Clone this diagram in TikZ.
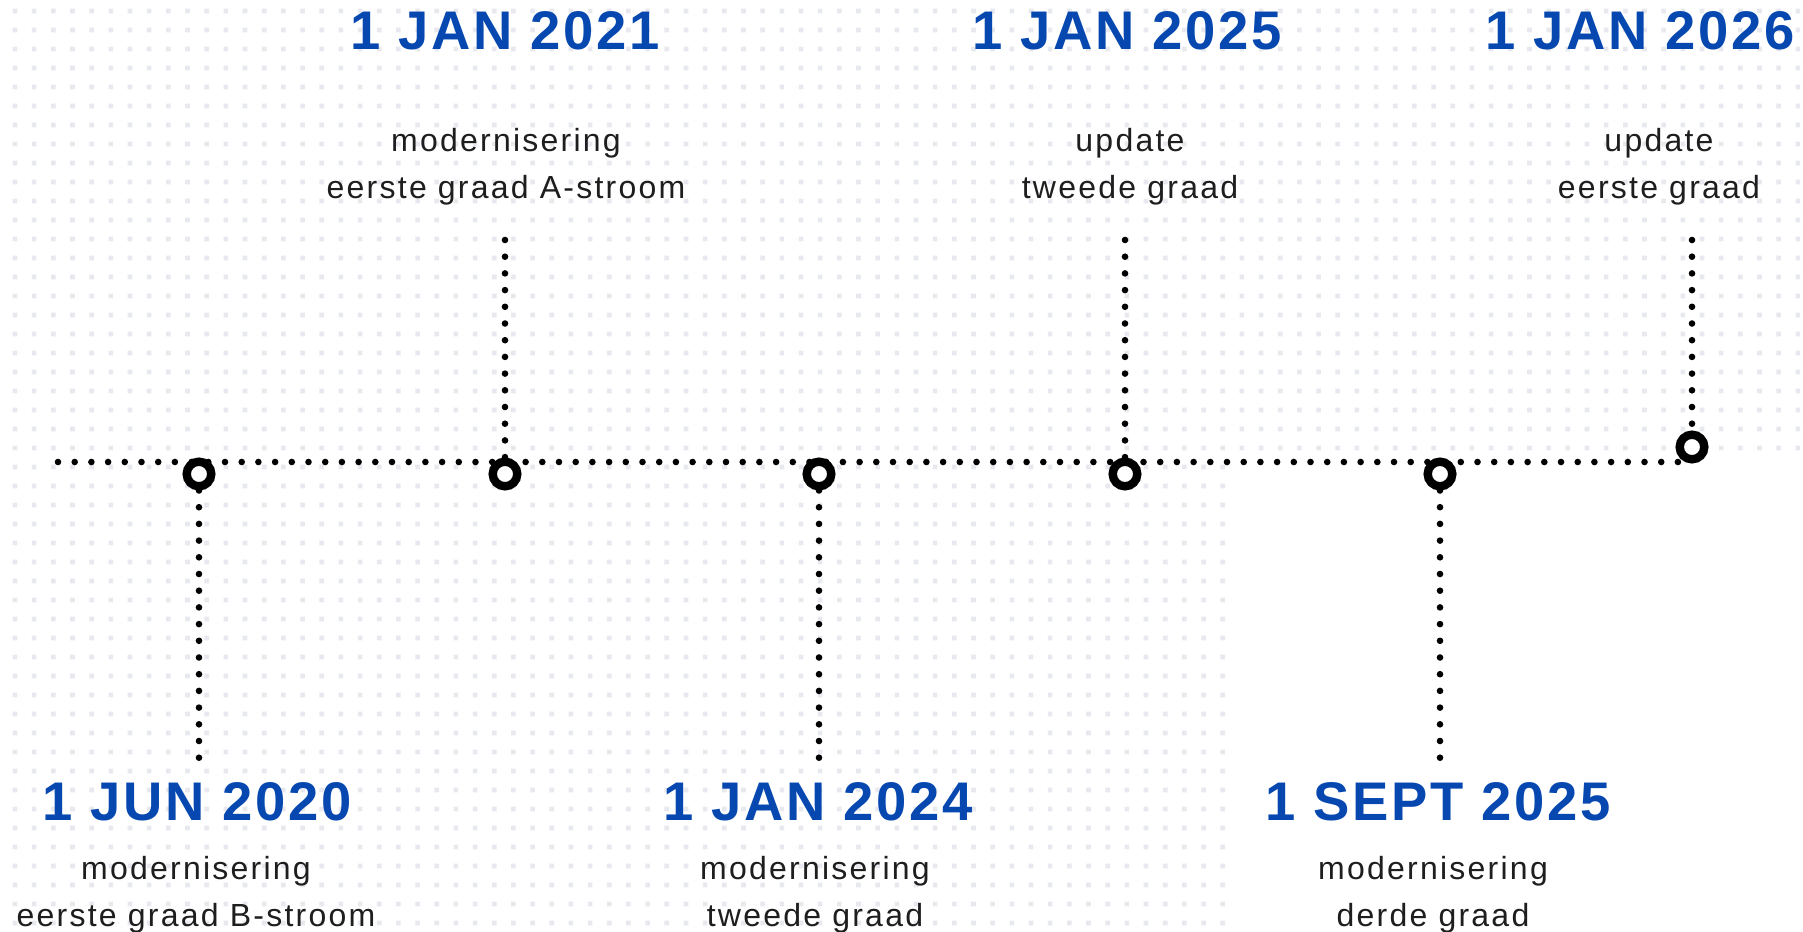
\documentclass[tikz,border=0pt]{standalone}
\usepackage{fontspec}
\setmainfont{Liberation Sans}
\newfontfamily\datefont[LetterSpace=5]{Liberation Sans}
\newfontfamily\descfont[LetterSpace=7]{Liberation Sans}
\definecolor{dateblue}{RGB}{6,72,176}
\definecolor{desctext}{RGB}{30,30,30}
\definecolor{gridc}{RGB}{232,233,238}
\pgfdeclarelayer{backmost}
\pgfdeclarelayer{lines}
\pgfsetlayers{backmost,lines,main}
\begin{document}
\begin{tikzpicture}[x=0.5pt,y=-0.5pt,
  datelbl/.style={font=\datefont\bfseries\fontsize{27.2}{30}\selectfont, text=dateblue, inner sep=0pt, anchor=base},
  desclbl/.style={font=\descfont\fontsize{16}{23.5}\selectfont, text=desctext, inner sep=0pt, align=center, anchor=north},
  dotline/.style={line width=3.3pt, line cap=round, dash pattern=on 0pt off 8.35pt},
  milestone/.style={circle, draw=black, line width=4.2pt, fill=white, inner sep=0pt, minimum size=12.3pt}]
\useasboundingbox (0,0) rectangle (1803,931);
\begin{pgfonlayer}{backmost}
\fill[white] (0,0) rectangle (1803,931);
\fill[gridc] \foreach \i in {0,...,93}{\foreach \j in {0,...,23}{ ({15+19.17*\i-2.3},{11+19*\j-2.3}) rectangle ++(4.6,4.6) }};
\fill[gridc] \foreach \i in {0,...,63}{\foreach \j in {24,...,48}{ ({15+19.17*\i-2.3},{11+19*\j-2.3}) rectangle ++(4.6,4.6) }};
\end{pgfonlayer}
% milestones
\node[milestone] (c1) at (199,474) {};
\node[milestone] (c2) at (505,474) {};
\node[milestone] (c3) at (819,474) {};
\node[milestone] (c4) at (1125,474) {};
\node[milestone] (c5) at (1440,474) {};
\node[milestone] (c6) at (1692,447) {};
% timeline and stems
\coordinate (tlA) at (58,462);
\coordinate (tlB) at (1682,462);
\coordinate (b1) at (199,760);
\coordinate (b3) at (819,760);
\coordinate (b5) at (1440,760);
\coordinate (u2) at (505,240);
\coordinate (u4) at (1125,240);
\coordinate (u6) at (1692,240);
\begin{pgfonlayer}{lines}
\draw[dotline] (tlA) -- (tlB);
\draw[dotline] (c1.south) -- (b1);
\draw[dotline] (c3.south) -- (b3);
\draw[dotline] (c5.south) -- (b5);
\draw[dotline] (u2) -- (c2.north);
\draw[dotline] (u4) -- (c4.north);
\draw[dotline] (u6) -- (c6.north);
\end{pgfonlayer}
% dates
\node[datelbl] (d2) at (505,50) {1 JAN 2021};
\node[datelbl] (d4) at (1127,50) {1 JAN 2025};
\node[datelbl, anchor=base east] (d6) at (1795,50) {1 JAN 2026};
\node[datelbl] (d1) at (197,820) {1 JUN 2020};
\node[datelbl] (d3) at (818,820) {1 JAN 2024};
\node[datelbl] (d5) at (1438,820) {1 SEPT 2025};
% descriptions
\node[desclbl] (t2) at (506,128) {modernisering\\eerste graad A-stroom};
\node[desclbl] (t4) at (1130,128) {update\\tweede graad};
\node[desclbl] (t6) at (1659,128) {update\\eerste graad};
\node[desclbl] (t1) at (196,856) {modernisering\\eerste graad B-stroom};
\node[desclbl] (t3) at (815,856) {modernisering\\tweede graad};
\node[desclbl] (t5) at (1433,856) {modernisering\\derde graad};
\end{tikzpicture}
\end{document}
